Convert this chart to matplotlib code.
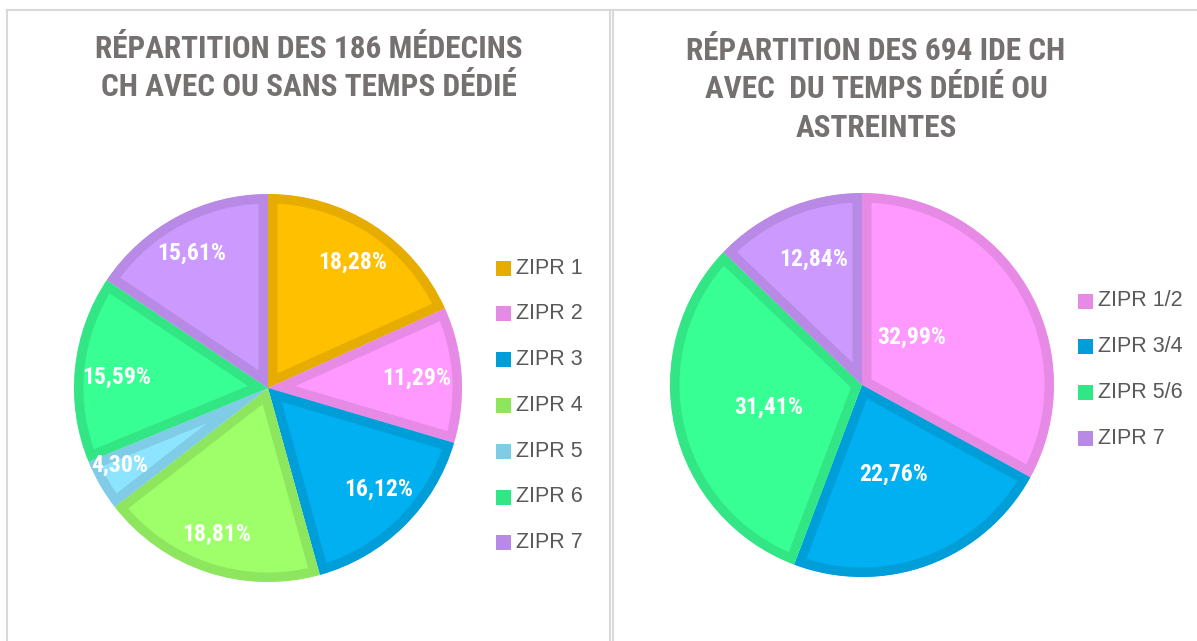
import numpy as np
import matplotlib
matplotlib.use("Agg")
import matplotlib.pyplot as plt
from matplotlib.patches import Rectangle

# ---------------- data ----------------
left_title = "RÉPARTITION DES 186 MÉDECINS\nCH AVEC OU SANS TEMPS DÉDIÉ"
left_labels = ["ZIPR 1", "ZIPR 2", "ZIPR 3", "ZIPR 4", "ZIPR 5", "ZIPR 6", "ZIPR 7"]
left_values = [18.28, 11.29, 16.12, 18.81, 4.30, 15.59, 15.61]
left_texts = ["18,28%", "11,29%", "16,12%", "18,81%", "4,30%", "15,59%", "15,61%"]

right_title = "RÉPARTITION DES 694 IDE CH\nAVEC  DU TEMPS DÉDIÉ OU\nASTREINTES"
right_labels = ["ZIPR 1/2", "ZIPR 3/4", "ZIPR 5/6", "ZIPR 7"]
right_values = [32.99, 22.76, 31.41, 12.84]
right_texts = ["32,99%", "22,76%", "31,41%", "12,84%"]

# ---------------- style ----------------
left_fill = ["#FFC000", "#FF99FF", "#00B0F0", "#9EFF6A", "#8DE4FF", "#38FF94", "#CC99FF"]
left_edge = ["#E6AC00", "#E68AE6", "#009ED8", "#8EE65F", "#80CCE6", "#33E685", "#B88AE6"]
right_fill = ["#FF99FF", "#00B0F0", "#38FF94", "#CC99FF"]
right_edge = ["#E68AE6", "#009ED8", "#33E685", "#B88AE6"]

left_dist = [0.78, 0.77, 0.77, 0.80, 0.86, 0.78, 0.80]
left_ang_off = [-1, 0, 3, -1, -2.5, 1.5, 1.5]
right_dist = [0.36, 0.49, 0.50, 0.70]
right_ang_off = [13, -1, 0.5, -2]

W, H = 1197, 641
DPI = 100
TITLE_C = "#767171"
LEG_C = "#595959"
FRAME_C = "#D9D9D9"

narrow = ["Liberation Sans Narrow", "DejaVu Sans Condensed", "Roboto Condensed",
          "Liberation Sans", "DejaVu Sans"]
regular = ["Liberation Sans", "DejaVu Sans"]

fig = plt.figure(figsize=(W / DPI, H / DPI), dpi=DPI)
fig.patch.set_facecolor("white")

def fx(px):
    return px / W

def fy(py):
    return 1 - py / H

# frames
fig.add_artist(plt.Line2D([fx(7), fx(1197)], [fy(10), fy(10)], color=FRAME_C, lw=1.5))
fig.add_artist(plt.Line2D([fx(7), fx(7)], [fy(10), fy(641)], color=FRAME_C, lw=1.5))
fig.add_artist(plt.Line2D([fx(610), fx(610)], [fy(10), fy(641)], color=FRAME_C, lw=1.5))
fig.add_artist(plt.Line2D([fx(613), fx(613)], [fy(10), fy(641)], color=FRAME_C, lw=1.5))

BORDER_PX = 19.0
BORDER_PT = BORDER_PX * 72 / DPI


def draw_pie(cx, cy, r, values, fills, edges, texts, dists, offs):
    ax = fig.add_axes([fx(cx - r), fy(cy + r), 2 * r / W, 2 * r / H])
    wedges, _ = ax.pie(values, colors=fills, startangle=90, counterclock=False,
                       radius=1, wedgeprops=dict(linewidth=BORDER_PT))
    for w, ec in zip(wedges, edges):
        w.set_edgecolor(ec)
        w.set_joinstyle("miter")
        w.set_clip_on(True)
        w.set_clip_path(w)
    for w, t, d, o in zip(wedges, texts, dists, offs):
        mid = np.deg2rad((w.theta1 + w.theta2) / 2 + o)
        ax.text(d * np.cos(mid), d * np.sin(mid), t, ha="center", va="center",
                color="white", fontsize=17, fontweight="bold", family=narrow)
    ax.set_xlim(-1, 1)
    ax.set_ylim(-1, 1)
    ax.axis("off")
    return ax


draw_pie(268, 388, 194, left_values, left_fill, left_edge, left_texts, left_dist, left_ang_off)
draw_pie(862, 385, 192, right_values, right_fill, right_edge, right_texts, right_dist, right_ang_off)

# titles
def title(cx, y0, text):
    for i, line in enumerate(text.split("\n")):
        fig.text(fx(cx), fy(y0 + i * 38.5), line, ha="center", va="center",
                 color=TITLE_C, fontsize=22.5, fontweight="bold", family=narrow)

title(309, 49, left_title)
title(876, 51, right_title)

# legends
def legend(x0, y0, labels, colors):
    for i, (lab, c) in enumerate(zip(labels, colors)):
        y = y0 + i * 45.8
        fig.add_artist(Rectangle((fx(x0), fy(y + 7.5)), 15 / W, 15 / H,
                                 facecolor=c, edgecolor="none", transform=fig.transFigure))
        fig.text(fx(x0 + 20), fy(y), lab, ha="left", va="center",
                 color=LEG_C, fontsize=15.5, family=regular)

legend(496, 268, left_labels, left_edge)
legend(1078, 301, right_labels, right_edge)

fig.savefig("out.png", dpi=DPI, facecolor="white")
